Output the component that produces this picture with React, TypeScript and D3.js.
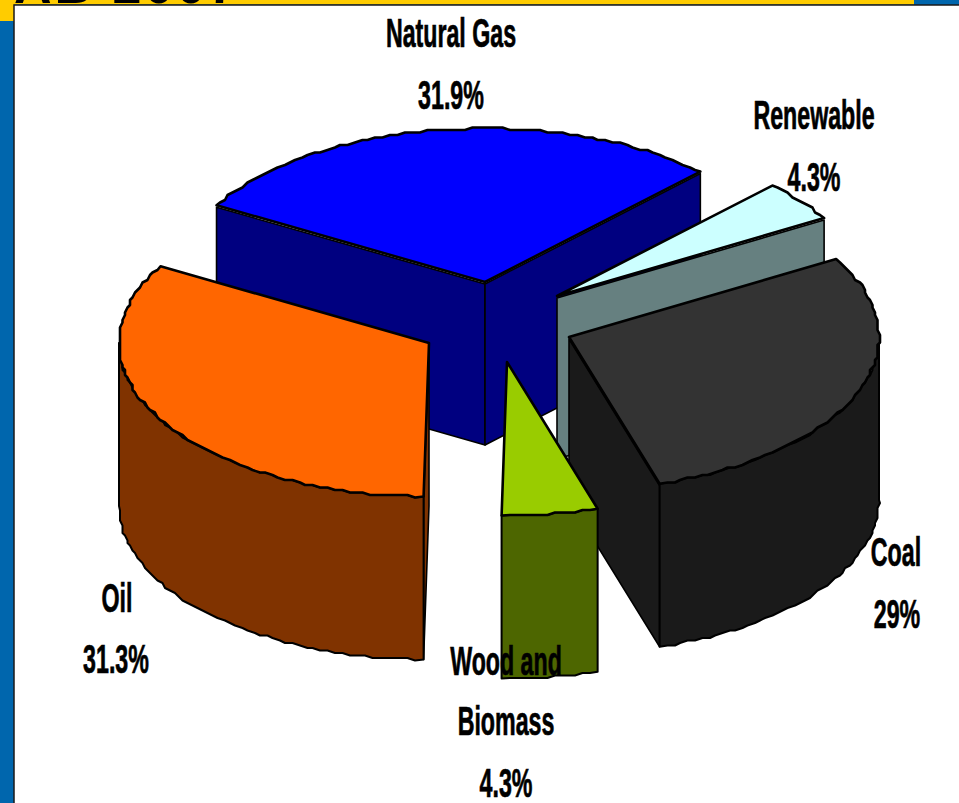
import React from "react";
import * as d3 from "d3";

// ---- data ----
const categories = ["Natural Gas", "Renewable", "Coal", "Wood and Biomass", "Oil"];
const shares = [31.9, 4.3, 29, 4.3, 31.3];
const shareLabels = ["31.9%", "4.3%", "29%", "4.3%", "31.3%"];

// ---- style ----
const topColors = ["#0000ff", "#ccffff", "#333333", "#99cc00", "#ff6600"];
const wallColors = ["#000080", "#668080", "#1a1a1a", "#4d6600", "#803300"];

// ---- layout ----
const W = 959, H = 803;
const RX = 310, RY = 153.5, DEPTH = 163;
const explodeX = [485, 557, 569, 507, 429];
const explodeY = [282, 296, 337, 362, 343];
// where each slice boundary lands on the tilted ellipse (perspective correction), degrees
const drawnBoundaries = [-60, 44, 59.5, 163, 181, 300];
const paintOrder = [0, 1, 2, 4, 3];
const labelLines: [string, number, number][][] = [
  [["Natural Gas", 451, 47], ["31.9%", 451, 109]],
  [["Renewable", 814, 129], ["4.3%", 814, 191]],
  [["Coal", 896, 566], ["29%", 897, 628]],
  [["Wood and", 506, 675], ["Biomass", 506, 735], ["4.3%", 506, 797]],
  [["Oil", 117, 612], ["31.3%", 116, 673]],
];

const arcs = d3.pie<number>().sort(null).startAngle(0).endAngle(360)(shares);
const domain = [0, ...arcs.map((a) => a.endAngle)];
const toDrawn = d3.scaleLinear().domain(domain).range(drawnBoundaries);
const sx = d3.scaleLinear().domain([-1, 1]).range([-RX, RX]);
const sy = d3.scaleLinear().domain([-1, 1]).range([RY, -RY]);
const rad = (d: number) => (d * Math.PI) / 180;
const snap = (v: number) => Math.round(v / 2.5) * 2.5;

type P = [number, number];
const pt = (i: number, deg: number, rough = true): P => {
  const x = explodeX[i] + sx(Math.sin(rad(deg)));
  const y = explodeY[i] + sy(Math.cos(rad(deg)));
  return rough ? [snap(x), snap(y)] : [x, y];
};
const arcPts = (i: number, a: number, b: number): P[] => {
  const n = Math.max(2, Math.round((b - a) / 1.4));
  const out: P[] = d3.range(n + 1).map((k) => pt(i, a + ((b - a) * k) / n, k !== 0 && k !== n));
  return out;
};
const poly = d3.line<P>().curve(d3.curveLinearClosed);
const shift = (ps: P[], dy: number): P[] => ps.map(([x, y]) => [x, y + dy]);

function Slice({ i }: { i: number }) {
  const a = toDrawn(arcs[i].startAngle);
  const b = toDrawn(arcs[i].endAngle);
  const apex: P = [explodeX[i], explodeY[i]];
  const top = [apex, ...arcPts(i, a, b)];
  const lip = 2;
  const face = (deg: number) => {
    const e = pt(i, deg, false);
    const ps: P[] = [[apex[0], apex[1] + lip], [e[0], e[1] + lip], [e[0], e[1] + DEPTH], [apex[0], apex[1] + DEPTH]];
    return <path d={poly(ps)!} fill={wallColors[i]} stroke="#000" strokeWidth={1.6} strokeLinejoin="round" />;
  };
  const wa = Math.max(a, 90), wb = Math.min(b, 270);
  const front = wb > wa ? arcPts(i, wa, wb) : [];
  return (
    <g>
      {Math.sin(rad(a)) < 0 && face(a)}
      {Math.sin(rad(b)) > 0 && face(b)}
      {front.length > 0 && (
        <path d={poly([...front, ...shift(front, DEPTH).reverse()])!} fill={wallColors[i]} stroke="#000" strokeWidth={2} strokeLinejoin="round" />
      )}
      <path d={poly(top)!} fill={topColors[i]} stroke="#000" strokeWidth={2.6} strokeLinejoin="round" />
    </g>
  );
}

export default function App() {
  return (
    <svg width={W} height={H} viewBox={`0 0 ${W} ${H}`} style={{ position: "absolute", left: 0, top: 0, background: "#fff" }}>
      <rect x={0} y={0} width={W} height={H} fill="#0066ad" />
      <rect x={0} y={0} width={914} height={4.5} fill="#ffcc00" />
      <rect x={0} y={0} width={14} height={21} fill="#ffcc00" />
      <text x={14} y={3} fontFamily="Liberation Sans, Arial, sans-serif" fontWeight="bold" fontSize={52} letterSpacing={3} fill="#000">AB 2007</text>
      <rect x={14} y={5} width={W} height={H} fill="#fff" stroke="#1a1a1a" strokeWidth={1.5} />
      {paintOrder.map((i) => (
        <Slice key={categories[i]} i={i} />
      ))}
      <g fontFamily="Liberation Sans, Arial, sans-serif" fontWeight="bold" fontSize={40} fill="#000" stroke="#000" strokeWidth={0.7} textAnchor="middle">
        {labelLines.flat().map(([t, x, y], k) => (
          <text key={k} transform={`translate(${x},${y}) scale(0.58,1)`}>{t}</text>
        ))}
      </g>
    </svg>
  );
}
